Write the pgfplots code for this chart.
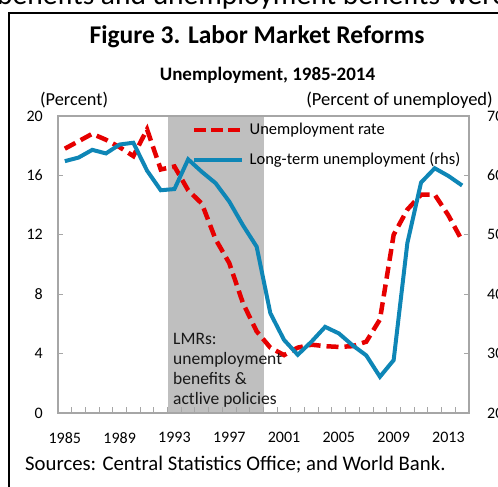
\documentclass[border=0pt]{standalone}
\usepackage{pgfplots}
\pgfplotsset{compat=1.18}
\usepackage{fontspec}
\setmainfont{Carlito}
\definecolor{ured}{RGB}{230,0,0}
\definecolor{ublue}{RGB}{14,134,182}
\definecolor{shade}{RGB}{191,191,191}
\definecolor{axgray}{RGB}{166,166,166}
\pgfplotstableread{
year rate
1985 17.8
1986 18.3
1987 18.8
1988 18.4
1989 17.9
1990 17.3
1991 19.1
1992 16.4
1993 16.6
1994 15.0
1995 14.1
1996 11.7
1997 10.1
1998 7.4
1999 5.5
2000 4.4
2001 3.9
2002 4.4
2003 4.6
2004 4.5
2005 4.45
2006 4.5
2007 4.8
2008 6.3
2009 12.0
2010 13.7
2011 14.7
2012 14.7
2013 13.3
2014 11.6
}\ratetable
\pgfplotstableread{
year ltu
1985 62.4
1986 63.0
1987 64.3
1988 63.7
1989 65.2
1990 65.5
1991 60.8
1992 57.5
1993 57.7
1994 62.7
1995 60.6
1996 58.7
1997 55.6
1998 51.6
1999 48.0
2000 36.8
2001 32.3
2002 29.8
2003 32.0
2004 34.5
2005 33.4
2006 31.4
2007 29.7
2008 26.1
2009 28.9
2010 48.6
2011 58.8
2012 61.2
2013 59.9
2014 58.3
}\ltutable
\begin{document}
\begin{tikzpicture}[x=1pt,y=1pt]
\path[use as bounding box, clip] (0,0) rectangle (498,487);
% cut-off running text above the figure box
\node[anchor=base west, inner sep=0pt, font=\fontsize{29.5}{32}\selectfont] at (-3,482) {benefits and unemployment benefits were};
% figure box
\draw[line width=2pt] (9,-5) -- (9,474) -- (510,474);
% titles
\node[font=\fontsize{25.5}{28}\selectfont\bfseries] at (257,450) {Figure 3. Labor Market Reforms};
\node[font=\fontsize{19}{22}\selectfont\bfseries] at (267.5,412) {Unemployment, 1985-2014};
\node[anchor=west, inner sep=0pt, font=\fontsize{18.3}{20}\selectfont] at (40,387) {(Percent)};
\node[anchor=east, inner sep=0pt, font=\fontsize{18.5}{20}\selectfont] at (493,387) {(Percent of unemployed)};
\node[anchor=west, inner sep=0pt, font=\fontsize{20.75}{24}\selectfont] at (25,22) {Sources: Central Statistics Office; and World Bank.};
\begin{axis}[
  at={(58pt,74pt)}, anchor=south west,
  scale only axis, width=411pt, height=297pt,
  xmin=1984.5, xmax=2014.5, ymin=0, ymax=20,
  axis on top,
  axis line style={axgray, line width=1.3pt},
  tick style={axgray, line width=1pt},
  tick align=inside,
  xtick={1985,1989,...,2013},
  minor xtick={1985.5,1986.5,...,2013.5},
  major x tick style={draw=none},
  minor tick length=6pt, major tick length=5pt,
  xtick pos=bottom, ytick pos=left,
  ytick={0,4,...,20},
  /pgf/number format/assume math mode=true,
  /pgf/number format/1000 sep={},
  ticklabel style={font=\fontsize{16}{18}\selectfont, inner sep=0pt},
  xticklabel style={yshift=-19pt},
  yticklabel style={xshift=-15pt},
]
\addplot[fill=shade, draw=none] coordinates {(1992.5,0) (1992.5,20) (1999.5,20) (1999.5,0)} -- cycle;
\addplot[ured, line width=4.5pt, dash pattern=on 12pt off 6pt] table[x=year,y=rate] {\ratetable};
\end{axis}
\node[anchor=north west, align=left, inner sep=0pt, font=\fontsize{17.5}{20}\selectfont, text=black!90] at (173,154) {LMRs:\\unemployment\\benefits \&\\actlive policies};
\begin{axis}[
  at={(58pt,74pt)}, anchor=south west,
  scale only axis, width=411pt, height=297pt,
  xmin=1984.5, xmax=2014.5, ymin=20, ymax=70,
  axis x line=none,
  axis y line*=right,
  axis line style={axgray, line width=1.3pt},
  tick style={axgray, line width=1pt},
  tick align=inside, major tick length=5pt,
  ytick={20,30,...,70},
  /pgf/number format/assume math mode=true,
  ticklabel style={font=\fontsize{16}{18}\selectfont, inner sep=0pt},
  yticklabel style={xshift=18pt},
  legend style={at={(0.326,0.98)}, anchor=north west, draw=none, fill=none,
    font=\fontsize{16.5}{18}\selectfont, row sep=14pt, inner sep=0pt,
    nodes={inner sep=0pt, text height=12pt, text depth=4pt}},
  legend cell align=left,
  legend image code/.code={\draw[#1] (0pt,0pt) -- (48pt,0pt);},
  /tikz/every even column/.append style={column sep=0pt},
  /tikz/every odd column/.append style={column sep=5pt},
]
\addlegendimage{ured, line width=4.5pt, dash pattern=on 12pt off 5pt}
\addlegendentry{Unemployment rate}
\addplot[ublue, line width=4pt] table[x=year,y=ltu] {\ltutable};
\addlegendentry{Long-term unemployment (rhs)}
\end{axis}
\end{tikzpicture}
\end{document}
